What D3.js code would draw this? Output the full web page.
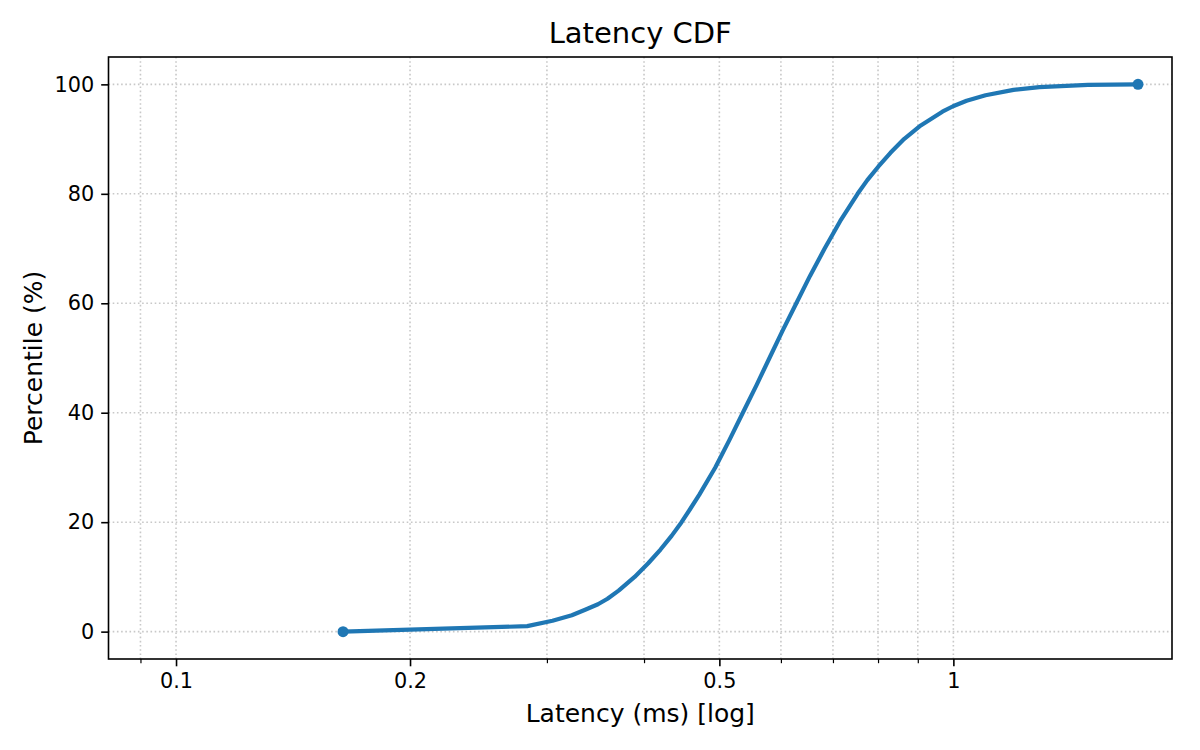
<!DOCTYPE html>
<html>
<head>
<meta charset="utf-8">
<script src="https://cdn.jsdelivr.net/npm/d3@7"></script>
<style>
  body { margin:0; background:#fff; }
  text { font-family: "DejaVu Sans", sans-serif; fill:#000; }
</style>
</head>
<body>
<div class="canvas"></div>
<script>
// data: percentile -> latency (ms)
const percentiles = [0, 1, 2, 3, 4, 5, 6, 7.5, 10, 12.5, 15, 17.5, 20, 22.5, 25, 30, 35, 40, 45, 50, 55, 60, 65, 70, 75, 80, 82.5, 85, 87.5, 90, 92.5, 95, 96, 97, 98, 99, 99.5, 99.9, 100];
const latencies   = [0.164, 0.283, 0.305, 0.323, 0.336, 0.349, 0.359, 0.371, 0.389, 0.405, 0.420, 0.434, 0.447, 0.459, 0.471, 0.494, 0.515, 0.536, 0.558, 0.580, 0.603, 0.628, 0.654, 0.683, 0.715, 0.753, 0.775, 0.801, 0.830, 0.864, 0.908, 0.968, 0.999, 1.04, 1.10, 1.195, 1.29, 1.49, 1.728];

// tick labels
const xMajorTicks = [0.1, 0.2, 0.5, 1];
const xMinorTicks = [0.09, 0.3, 0.4, 0.6, 0.7, 0.8, 0.9];
const yTicks = [0, 20, 40, 60, 80, 100];

//diamensions
const dims = { width:1200, height:750 };
const margin = { left:108.5, right:28, top:57, bottom:91 };
const inner = { w: dims.width - margin.left - margin.right, h: dims.height - margin.top - margin.bottom };

const blue = '#1f77b4';

//------------------------Svg container
const svg = d3.select('.canvas')
.append('svg')
.attr('width', dims.width)
.attr('height', dims.height);

const graph = svg.append('g')
.attr('transform', `translate(${margin.left}, ${margin.top})`);

//------------------------scales (log x, linear y with matplotlib-like margins)
const x = d3.scaleLog()
.domain([0.08187, 1.911])
.range([0, inner.w]);

const y = d3.scaleLinear()
.domain([-5, 105])
.range([inner.h, 0]);

//------------------------grid
const grid = graph.append('g')
.attr('stroke', '#c8c8c8')
.attr('stroke-width', 1.6)
.attr('stroke-dasharray', '1.6,2.6');

grid.selectAll('line.gx')
.data(xMajorTicks.concat(xMinorTicks))
.enter().append('line')
.attr('class', 'gx')
.attr('x1', d => x(d)).attr('x2', d => x(d))
.attr('y1', 0).attr('y2', inner.h);

grid.selectAll('line.gy')
.data(yTicks)
.enter().append('line')
.attr('class', 'gy')
.attr('x1', 0).attr('x2', inner.w)
.attr('y1', d => y(d)).attr('y2', d => y(d));

//------------------------axes
const xAxis = d3.axisBottom(x)
.tickValues(xMajorTicks)
.tickFormat(d3.format('~g'))
.tickSize(7.3)
.tickPadding(7);

const xAxisMinor = d3.axisBottom(x)
.tickValues(xMinorTicks)
.tickFormat('')
.tickSize(4.2);

const yAxis = d3.axisLeft(y)
.tickValues(yTicks)
.tickSize(7.3)
.tickPadding(7);

const gx = graph.append('g')
.attr('transform', `translate(0, ${inner.h})`)
.call(xAxis);

const gxm = graph.append('g')
.attr('transform', `translate(0, ${inner.h})`)
.call(xAxisMinor);

const gy = graph.append('g')
.call(yAxis);

[gx, gxm, gy].forEach(g => {
  g.select('.domain').remove();
  g.selectAll('line').attr('stroke', '#000').attr('stroke-width', 1.6);
  g.selectAll('text').style('font-size', '20.8px').attr('fill', '#000');
});
gxm.selectAll('line').attr('stroke-width', 1.2);
gx.selectAll('text').attr('dy', '0.71em');

//------------------------line + end markers
const pts = percentiles.map((p, i) => ({ p: p, v: latencies[i] }));

const line = d3.line()
.x(d => x(d.v))
.y(d => y(d.p));

graph.append('path')
.datum(pts)
.attr('fill', 'none')
.attr('stroke', blue)
.attr('stroke-width', 4.2)
.attr('stroke-linejoin', 'round')
.attr('stroke-linecap', 'round')
.attr('d', line);

graph.selectAll('circle.end')
.data([pts[0], pts[pts.length - 1]])
.enter().append('circle')
.attr('class', 'end')
.attr('cx', d => x(d.v))
.attr('cy', d => y(d.p))
.attr('r', 5.5)
.attr('fill', blue);

//------------------------frame
graph.append('rect')
.attr('width', inner.w)
.attr('height', inner.h)
.attr('fill', 'none')
.attr('stroke', '#000')
.attr('stroke-width', 1.6);

//------------------------titles
svg.append('text')
.attr('x', margin.left + inner.w / 2)
.attr('y', 43)
.attr('text-anchor', 'middle')
.style('font-size', '29px')
.text('Latency CDF');

svg.append('text')
.attr('x', margin.left + inner.w / 2)
.attr('y', 722)
.attr('text-anchor', 'middle')
.style('font-size', '25px')
.text('Latency (ms) [log]');

svg.append('text')
.attr('transform', `translate(42, ${margin.top + inner.h / 2}) rotate(-90)`)
.attr('text-anchor', 'middle')
.style('font-size', '25px')
.text('Percentile (%)');
</script>
</body>
</html>
